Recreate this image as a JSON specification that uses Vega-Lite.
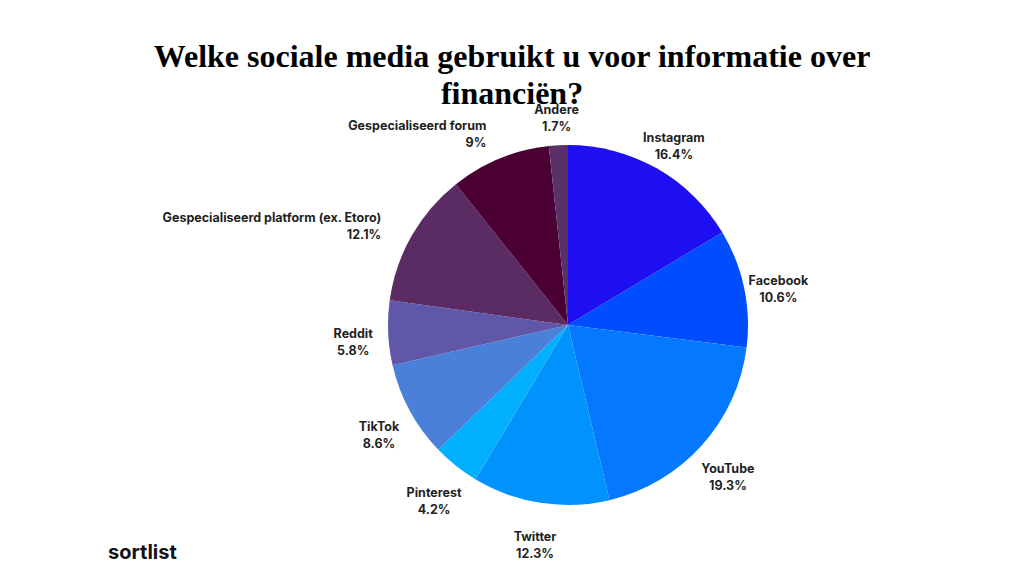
{
  "$schema": "https://vega.github.io/schema/vega-lite/v6.json",
  "width": 912,
  "height": 502,
  "autosize": {"type": "none"},
  "padding": {"left": 112, "top": 74, "right": 0, "bottom": 0},
  "background": "white",
  "title": {
    "text": ["Welke sociale media gebruikt u voor informatie over", "financiën?"],
    "font": "Liberation Serif",
    "fontSize": 32,
    "fontWeight": "bold",
    "color": "#000000",
    "anchor": "middle",
    "frame": "group",
    "dx": -56,
    "offset": -37,
    "lineHeight": 37
  },
  "data": {
    "values": [
      {"cat": "Instagram", "value": 16.4, "rank": 1},
      {"cat": "Facebook", "value": 10.6, "rank": 2},
      {"cat": "YouTube", "value": 19.3, "rank": 3},
      {"cat": "Twitter", "value": 12.3, "rank": 4},
      {"cat": "Pinterest", "value": 4.2, "rank": 5},
      {"cat": "TikTok", "value": 8.6, "rank": 6},
      {"cat": "Reddit", "value": 5.8, "rank": 7},
      {"cat": "Gespecialiseerd platform (ex. Etoro)", "value": 12.1, "rank": 8},
      {"cat": "Gespecialiseerd forum", "value": 9, "rank": 9},
      {"cat": "Andere", "value": 1.7, "rank": 10}
    ]
  },
  "encoding": {
    "theta": {"field": "value", "type": "quantitative", "stack": true},
    "order": {"field": "rank", "type": "quantitative"},
    "color": {
      "field": "cat",
      "type": "nominal",
      "legend": null,
      "scale": {
        "domain": ["Instagram", "Facebook", "YouTube", "Twitter", "Pinterest", "TikTok", "Reddit", "Gespecialiseerd platform (ex. Etoro)", "Gespecialiseerd forum", "Andere"],
        "range": ["#1E0EF2", "#004DFF", "#0478FF", "#0093FD", "#00B0FF", "#4A80D8", "#6157A9", "#5B2C63", "#4A0033", "#5A3167"]
      }
    }
  },
  "layer": [
    {
      "mark": {"type": "arc", "outerRadius": 180, "strokeWidth": 0}
    },
    {
      "transform": [{"calculate": "[datum.cat, datum.value + '%']", "as": "label"}],
      "mark": {
        "type": "text",
        "radius": 215,
        "font": "Inter",
        "fontSize": 12.5,
        "fontWeight": "bold",
        "lineHeight": 17,
        "baseline": "middle",
        "align": {"expr": "length(datum.cat) > 15 ? 'right' : 'center'"}
      },
      "encoding": {
        "text": {"field": "label"},
        "color": {"value": "#1f1f1f"}
      }
    },
    {
      "data": {"values": [{"logo": "sortlist"}]},
      "mark": {"type": "text", "x": -4, "y": 479, "align": "left", "baseline": "middle", "font": "Inter", "fontSize": 20, "fontWeight": "bold", "color": "#111111"},
      "encoding": {"text": {"field": "logo"}, "theta": null, "order": null, "color": null}
    }
  ],
  "config": {"view": {"stroke": null}}
}
